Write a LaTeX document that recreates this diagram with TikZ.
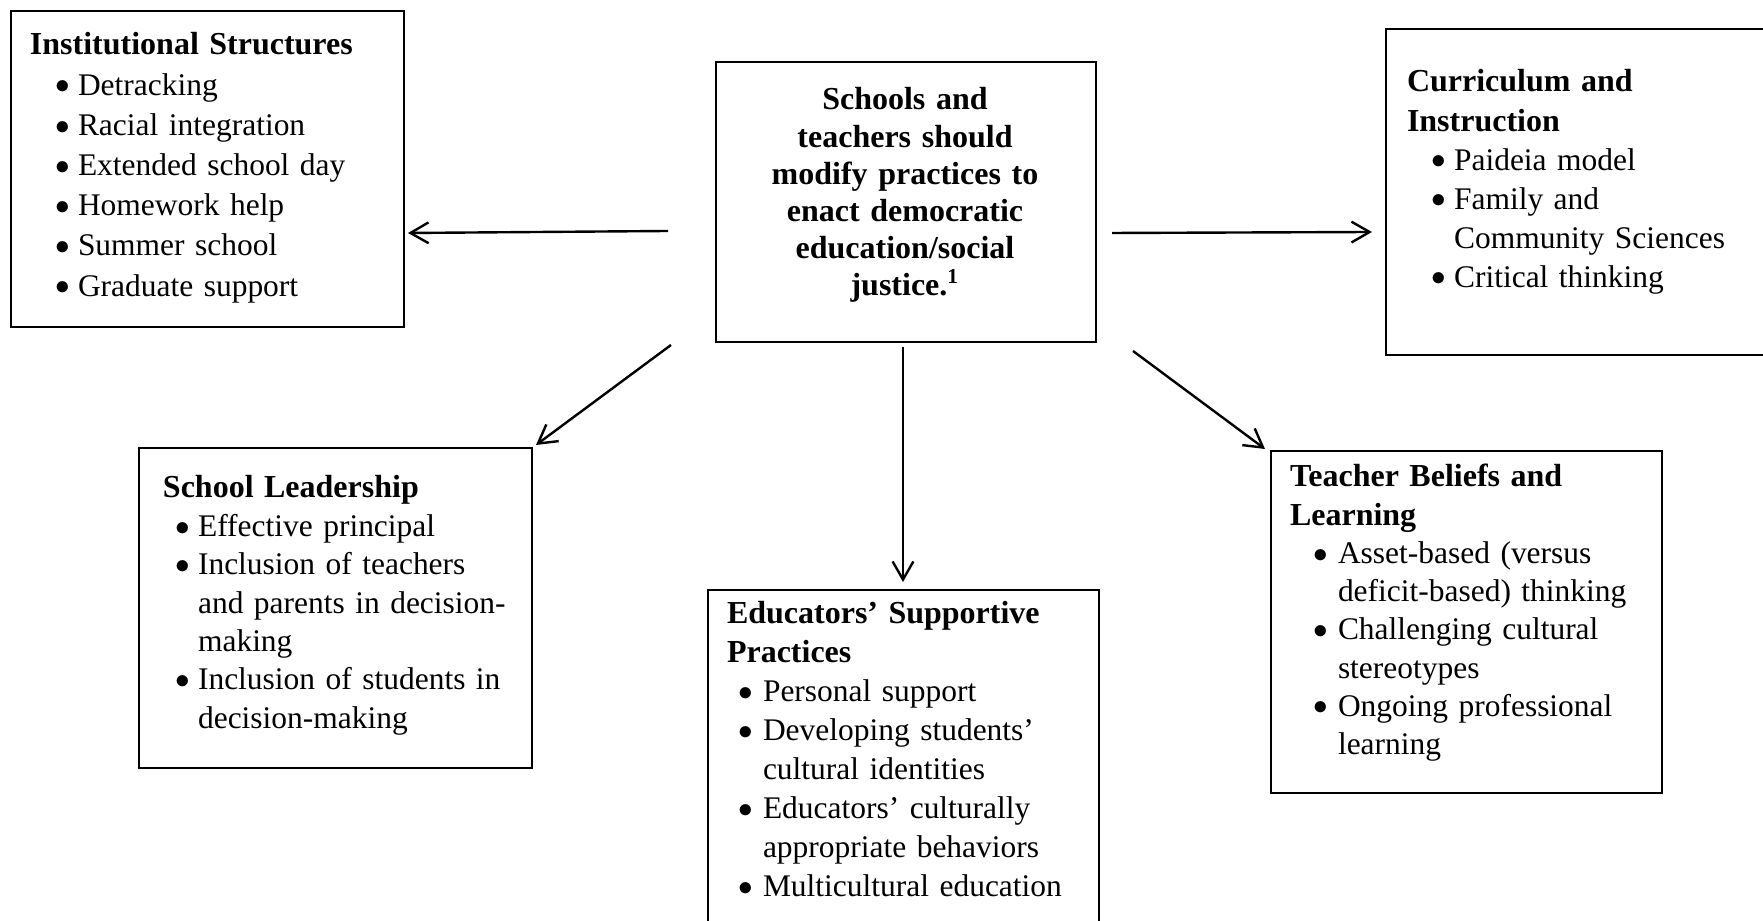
\documentclass[tikz,border=0pt]{standalone}
\usepackage{fontspec}
\setmainfont{Liberation Serif}
\usetikzlibrary{arrows.meta}
\newcommand\bul[2]{\hspace*{#1}\makebox[#2][l]{\hspace*{-0.7pt}\raisebox{0.5pt}{\fontsize{10.5pt}{10pt}\selectfont$\bullet$}}}
\newcommand\cnt[2]{\hspace*{\dimexpr#1+#2\relax}}
\newcommand\ttl[1]{{\fontsize{12pt}{12pt}\selectfont\bfseries #1}}
\tikzset{
  box/.style={draw, line width=0.65pt, rectangle, inner sep=0pt, outer sep=0pt, anchor=north west},
  txt/.style={anchor=base west, inner sep=0pt, outer sep=0pt, text width=160pt, align=left},
  arr/.style={line width=0.9pt, -{Straight Barb[length=6.8pt,width=7.8pt,line width=0.9pt]}},
}
\begin{document}
\begin{tikzpicture}[x=0.375pt,y=-0.375pt]
\clip (0,0) rectangle (1763,921);
% boxes
\node[box, minimum width=393*0.375pt, minimum height=316*0.375pt] (ins) at (11,11) {};
\node[box, minimum width=380*0.375pt, minimum height=280*0.375pt] (ctr) at (716,62) {};
\node[box, minimum width=390*0.375pt, minimum height=326*0.375pt] (cur) at (1386,29) {};
\node[box, minimum width=393*0.375pt, minimum height=320*0.375pt] (lead) at (139,448) {};
\node[box, minimum width=391*0.375pt, minimum height=345*0.375pt] (edu) at (708,590) {};
\node[box, minimum width=391*0.375pt, minimum height=342*0.375pt] (tb) at (1271,451) {};
% texts
\node[txt, font=\fontsize{11.8pt}{15.07pt}\selectfont] (insT) at (30,55) {%
\ttl{Institutional Structures}\\
\bul{10.1pt}{7.9pt}Detracking\\
\bul{10.1pt}{7.9pt}Racial integration\\
\bul{10.1pt}{7.9pt}Extended school day\\
\bul{10.1pt}{7.9pt}Homework help\\
\bul{10.1pt}{7.9pt}Summer school\\
\bul{10.1pt}{7.9pt}Graduate support};
\node[anchor=base, inner sep=0pt, outer sep=0pt, text width=150pt, align=center, font=\bfseries\fontsize{12pt}{13.9pt}\selectfont] (ctrT) at (905,110) {%
Schools and\\
teachers should\\
modify practices to\\
enact democratic\\
education/social\\
justice.\textsuperscript{1}};
\node[txt, font=\fontsize{11.8pt}{14.65pt}\selectfont] (curT) at (1407,92) {%
\ttl{Curriculum and}\\
\ttl{Instruction}\\
\bul{9.75pt}{7.9pt}Paideia model\\
\bul{9.75pt}{7.9pt}Family and\\
\cnt{9.75pt}{7.9pt}Community Sciences\\
\bul{9.75pt}{7.9pt}Critical thinking};
\node[txt, font=\fontsize{11.8pt}{14.4pt}\selectfont] (leadT) at (163,498) {%
\ttl{School Leadership}\\
\bul{5.25pt}{7.9pt}Effective principal\\
\bul{5.25pt}{7.9pt}Inclusion of teachers\\
\cnt{5.25pt}{7.9pt}and parents in decision-\\
\cnt{5.25pt}{7.9pt}making\\
\bul{5.25pt}{7.9pt}Inclusion of students in\\
\cnt{5.25pt}{7.9pt}decision-making};
\node[txt, font=\fontsize{11.8pt}{14.6pt}\selectfont] (eduT) at (727,624) {%
\ttl{Educators’ Supportive}\\
\ttl{Practices}\\
\bul{4.9pt}{8.6pt}Personal support\\
\bul{4.9pt}{8.6pt}Developing students’\\
\cnt{4.9pt}{8.6pt}cultural identities\\
\bul{4.9pt}{8.6pt}Educators’ culturally\\
\cnt{4.9pt}{8.6pt}appropriate behaviors\\
\bul{4.9pt}{8.6pt}Multicultural education};
\node[txt, font=\fontsize{11.8pt}{14.33pt}\selectfont] (tbT) at (1290,487) {%
\ttl{Teacher Beliefs and}\\
\ttl{Learning}\\
\bul{9.4pt}{8.6pt}Asset-based (versus\\
\cnt{9.4pt}{8.6pt}deficit-based) thinking\\
\bul{9.4pt}{8.6pt}Challenging cultural\\
\cnt{9.4pt}{8.6pt}stereotypes\\
\bul{9.4pt}{8.6pt}Ongoing professional\\
\cnt{9.4pt}{8.6pt}learning};
% arrow endpoints
\coordinate (a1s) at (668,231); \coordinate (a1e) at (408,233);
\coordinate (a2s) at (1112,233); \coordinate (a2e) at (1372,232);
\coordinate (a3s) at (671,345); \coordinate (a3e) at (536,445);
\coordinate (a4s) at (903,347); \coordinate (a4e) at (903,582);
\coordinate (a5s) at (1133,351); \coordinate (a5e) at (1265,449);
\draw[arr] (a1s) -- (a1e);
\draw[arr] (a2s) -- (a2e);
\draw[arr] (a3s) -- (a3e);
\draw[arr] (a4s) -- (a4e);
\draw[arr] (a5s) -- (a5e);
\end{tikzpicture}
\end{document}
